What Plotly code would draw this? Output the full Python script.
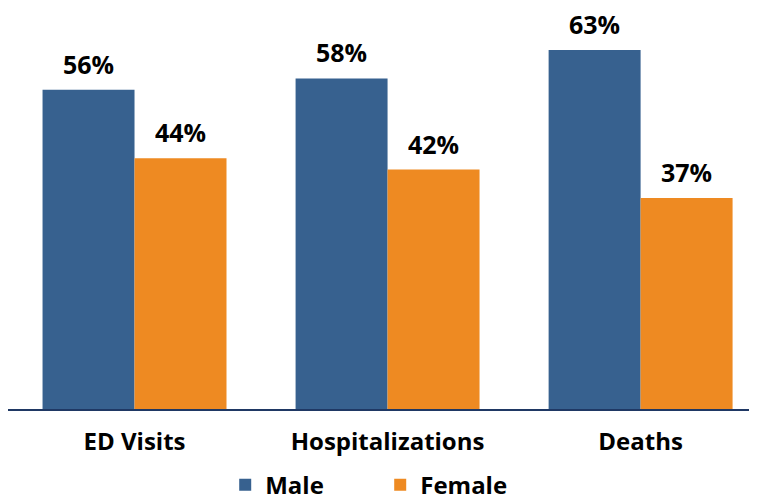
import plotly.graph_objects as go

categories = ["ED Visits", "Hospitalizations", "Deaths"]
male = [56, 58, 63]
female = [44, 42, 37]
male_labels = ["56%", "58%", "63%"]
female_labels = ["44%", "42%", "37%"]

BLUE = "#37618F"
ORANGE = "#EE8A22"
FONT = "Open Sans"

fig = go.Figure()
fig.add_trace(go.Bar(x=categories, y=male, name="Male", marker=dict(color=BLUE, line=dict(width=0))))
fig.add_trace(go.Bar(x=categories, y=female, name="Female", marker=dict(color=ORANGE, line=dict(width=0))))

annotations = []
for i, c in enumerate(categories):
    for vals, labs, shift in ((male, male_labels, -46), (female, female_labels, 46)):
        annotations.append(dict(
            x=c, y=vals[i], xref="x", yref="y", text=labs[i], showarrow=False,
            xshift=shift, yshift=26, yanchor="middle", xanchor="center",
            height=26,
            font=dict(family=FONT, size=25, color="#000000", weight="bold"),
        ))

fig.update_layout(
    width=749, height=495,
    margin=dict(l=0, r=0, t=2, b=94),
    plot_bgcolor="white", paper_bgcolor="white",
    barmode="group", bargap=0.273, bargroupgap=0,
    annotations=annotations,
    showlegend=True,
    legend=dict(
        orientation="h", xref="container", yref="container",
        x=0.29, xanchor="left", y=0.036, yanchor="middle",
        font=dict(family=FONT, size=24, color="#000000", weight="bold"),
        entrywidth=110, itemwidth=30,
    ),
    xaxis=dict(
        range=[-0.5, 2.46], showline=True, linecolor="#1F3864", linewidth=2,
        ticks="", showgrid=False, zeroline=False, automargin=False,
        tickfont=dict(family=FONT, size=24, color="#000000", weight="bold"),
        ticklabelstandoff=10,
    ),
    yaxis=dict(range=[0, 70], visible=False, showgrid=False, zeroline=False, automargin=False),
)

fig.write_html("out.html")
